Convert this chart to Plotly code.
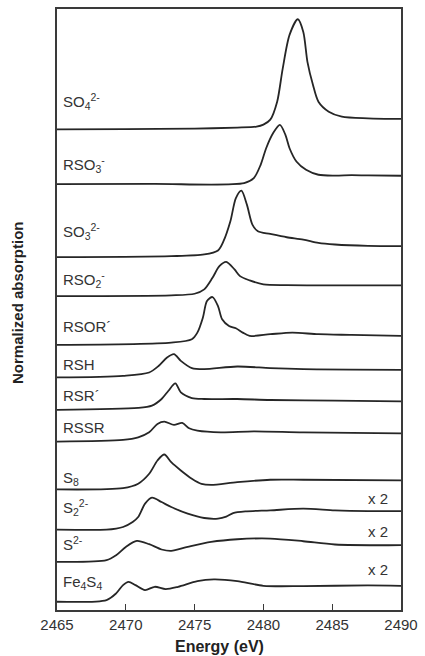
import plotly.graph_objects as go

# ---------------- data (energies in eV, heights above each trace's own left baseline) ----------------
names = ["SO4", "RSO3", "SO3", "RSO2", "RSOR", "RSH", "RSR", "RSSR", "S8", "S2", "S", "Fe4S4"]
labels = ["SO<sub>4</sub><sup>2-</sup>", "RSO<sub>3</sub><sup>-</sup>", "SO<sub>3</sub><sup>2-</sup>",
          "RSO<sub>2</sub><sup>-</sup>", "RSOR´", "RSH", "RSR´", "RSSR", "S<sub>8</sub>",
          "S<sub>2</sub><sup>2-</sup>", "S<sup>2-</sup>", "Fe<sub>4</sub>S<sub>4</sub>"]

e_SO4 = [2465, 2470, 2475, 2478.1, 2479.5, 2480, 2480.5, 2481, 2481.4, 2481.9, 2482.5, 2482.9, 2483.2, 2483.6, 2484, 2484.75, 2485.7, 2487.6, 2490]
a_SO4 = [0, 0.2, 0.7, 1.7, 2.7, 4.7, 9.7, 27.7, 60.7, 94.7, 110.4, 97.7, 67.7, 44.7, 27.7, 17.7, 12.7, 11, 10.4]

e_RSO3 = [2465, 2472, 2478.6, 2479.3, 2479.8, 2480.2, 2480.7, 2481.2, 2481.6, 2481.9, 2482.4, 2483.1, 2484.0, 2485.2, 2486.4, 2487.6, 2490]
a_RSO3 = [0, 0.2, 1, 6, 19.4, 36, 51, 59.4, 49.4, 36, 22.7, 14.4, 9.4, 8.6, 9.0, 8.7, 8.4]

e_SO3 = [2465, 2473.3, 2475.7, 2476.7, 2477.1, 2477.6, 2478.0, 2478.4, 2478.8, 2479.2, 2479.6, 2480.5, 2481.7, 2482.9, 2484.0, 2485.2, 2487.6, 2490]
a_SO3 = [0, 1, 2.7, 6.7, 16, 36, 59.3, 66.7, 52.7, 32.7, 26, 23.3, 20, 17.7, 14.3, 12.7, 11.3, 11]

e_RSO2 = [2465, 2473.3, 2475, 2475.7, 2476.3, 2476.8, 2477.3, 2477.9, 2478.3, 2479.0, 2480, 2481.7, 2484, 2490]
a_RSO2 = [0, 0.7, 2.3, 6.7, 18.3, 30, 34.3, 26.7, 20, 15.7, 11.7, 11, 10.7, 10.7]

e_RSOR = [2465, 2473.3, 2474.8, 2475.2, 2475.6, 2475.9, 2476.3, 2476.7, 2477.0, 2477.5, 2478.0, 2478.5, 2479, 2480.5, 2482.1, 2484, 2486.4, 2490]
a_RSOR = [0, 2.3, 5.7, 12.3, 27.3, 44, 48, 39, 25.7, 19, 16.7, 12.3, 9, 10.7, 12.3, 10.7, 10, 9]

e_RSH = [2465, 2469.8, 2471.7, 2472.4, 2473, 2473.5, 2474.0, 2474.8, 2475.7, 2478.1, 2480.5, 2482.9, 2490]
a_RSH = [0, 1.7, 5, 11.7, 20, 23.4, 16.7, 9.4, 8.4, 11, 9.4, 8.4, 7.7]

e_RSR = [2465, 2470.9, 2471.9, 2472.6, 2473.1, 2473.6, 2474.0, 2474.8, 2475.7, 2478.1, 2480.5, 2485.2, 2490]
a_RSR = [0, 2, 4.3, 11, 19.3, 26.6, 17.6, 12, 11, 11, 10, 9.3, 8.6]

e_RSSR = [2465, 2469.8, 2470.9, 2471.7, 2472.3, 2472.8, 2473.5, 2474.1, 2474.6, 2475.2, 2476.9, 2479.3, 2482.9, 2490]
a_RSSR = [0, 1.7, 4.3, 9.3, 17.7, 20, 16.7, 18.7, 13.3, 11, 9.3, 10.3, 9.3, 8.3]

e_S8 = [2465, 2469.8, 2470.9, 2471.7, 2472.3, 2472.8, 2473.3, 2474.0, 2474.8, 2475.5, 2476.2, 2478.1, 2480.5, 2482.9, 2490]
a_S8 = [0, 1.3, 5.7, 15.7, 29, 35, 27.3, 19, 10.7, 5.5, 4.5, 7.3, 9.7, 9.7, 9]

e_S2 = [2465, 2468.6, 2469.3, 2469.8, 2470.5, 2470.9, 2471.4, 2471.9, 2472.6, 2473.3, 2474.5, 2475.7, 2476.7, 2477.3, 2477.8, 2478.8, 2480.5, 2482.9, 2485.2, 2487.6, 2490]
a_S2 = [0, 0, 1, 2.6, 7.6, 12.6, 26, 32, 27.6, 22.6, 16, 11.6, 11, 13.0, 16.6, 18.3, 19.3, 21, 19.3, 18.6, 18.6]

e_S = [2465, 2468.6, 2469.3, 2470, 2470.8, 2471.7, 2472.6, 2473.3, 2474.5, 2476.2, 2478.1, 2480.5, 2482.9, 2485.2, 2490]
a_S = [0, 1.7, 6.7, 15, 21, 17.7, 12.4, 11, 15, 20, 22.7, 23.4, 20.7, 17.4, 16.7]

e_Fe4S4 = [2465, 2468.6, 2469.3, 2469.8, 2470.2, 2470.7, 2471.4, 2472.1, 2472.9, 2473.8, 2475.2, 2476.4, 2478.1, 2480, 2482.9, 2487.6, 2490]
a_Fe4S4 = [0, 1.7, 8.4, 16.7, 20, 16.7, 11.7, 15, 12.7, 15, 20.7, 22.4, 20.7, 16, 15.7, 16.4, 16]

energies = [e_SO4, e_RSO3, e_SO3, e_RSO2, e_RSOR, e_RSH, e_RSR, e_RSSR, e_S8, e_S2, e_S, e_Fe4S4]
absorb = [a_SO4, a_RSO3, a_SO3, a_RSO2, a_RSOR, a_RSH, a_RSR, a_RSSR, a_S8, a_S2, a_S, a_Fe4S4]

x_ticks = [2465, 2470, 2475, 2480, 2485, 2490]
scale_notes = ["x 2", "x 2", "x 2"]

# ---------------- layout (vertical stacking offsets & label positions) ----------------
offsets = [482.3, 427.3, 354, 315, 266, 233.3, 200.7, 169, 121, 80.7, 48.3, 8.3]
label_y = [510, 446.7, 380, 331.7, 284, 246.7, 215, 183.3, 131.7, 102.7, 66.7, 27.3]
note_y = [111.7, 78.3, 40.7]

FONT = "Liberation Sans, Arial, sans-serif"
LINE = "#262626"
AX = "#3a3a3a"
TXT = "#333333"

fig = go.Figure()
for e, a, off in zip(energies, absorb, offsets):
    fig.add_trace(go.Scatter(
        x=e, y=[v + off for v in a], mode="lines",
        line=dict(color=LINE, width=1.8, shape="spline", smoothing=0.8),
        showlegend=False, hoverinfo="skip"))

for lab, ly in zip(labels, label_y):
    fig.add_annotation(x=2465.3, y=ly, xref="x", yref="y", text=lab, showarrow=False,
                       xanchor="left", yanchor="middle",
                       font=dict(family=FONT, size=15, color=TXT))

for nt, ny in zip(scale_notes, note_y):
    fig.add_annotation(x=2488.3, y=ny, xref="x", yref="y", text=nt, showarrow=False,
                       xanchor="center", yanchor="middle",
                       font=dict(family=FONT, size=15, color=TXT))

fig.add_annotation(x=-0.113, y=0.511, xref="paper", yref="paper", text="<b>Normalized absorption</b>",
                   textangle=-90, showarrow=False, xanchor="center", yanchor="middle",
                   font=dict(family=FONT, size=15, color="#222222"))
fig.add_annotation(x=0.473, y=-0.0614, xref="paper", yref="paper", text="<b>Energy (eV)</b>",
                   showarrow=False, xanchor="center", yanchor="middle",
                   font=dict(family=FONT, size=16, color="#222222"))

fig.update_layout(
    width=425, height=656,
    margin=dict(l=57, r=18, t=7, b=46),
    paper_bgcolor="white", plot_bgcolor="white",
    xaxis=dict(range=[2465, 2490], tickvals=x_ticks, ticktext=[str(t) for t in x_ticks],
               ticks="inside", ticklen=6, tickwidth=1.2, tickcolor=AX,
               showline=True, linecolor=AX, linewidth=1.5, mirror=True,
               showgrid=False, zeroline=False,
               tickfont=dict(family=FONT, size=15, color=TXT)),
    yaxis=dict(range=[0, 603], showticklabels=False, ticks="",
               showline=True, linecolor=AX, linewidth=1.5, mirror=True,
               showgrid=False, zeroline=False),
)

fig.write_html("out.html",
               config={"displayModeBar": False},
               post_script="document.body.style.margin='0';document.body.style.overflow='hidden';")
